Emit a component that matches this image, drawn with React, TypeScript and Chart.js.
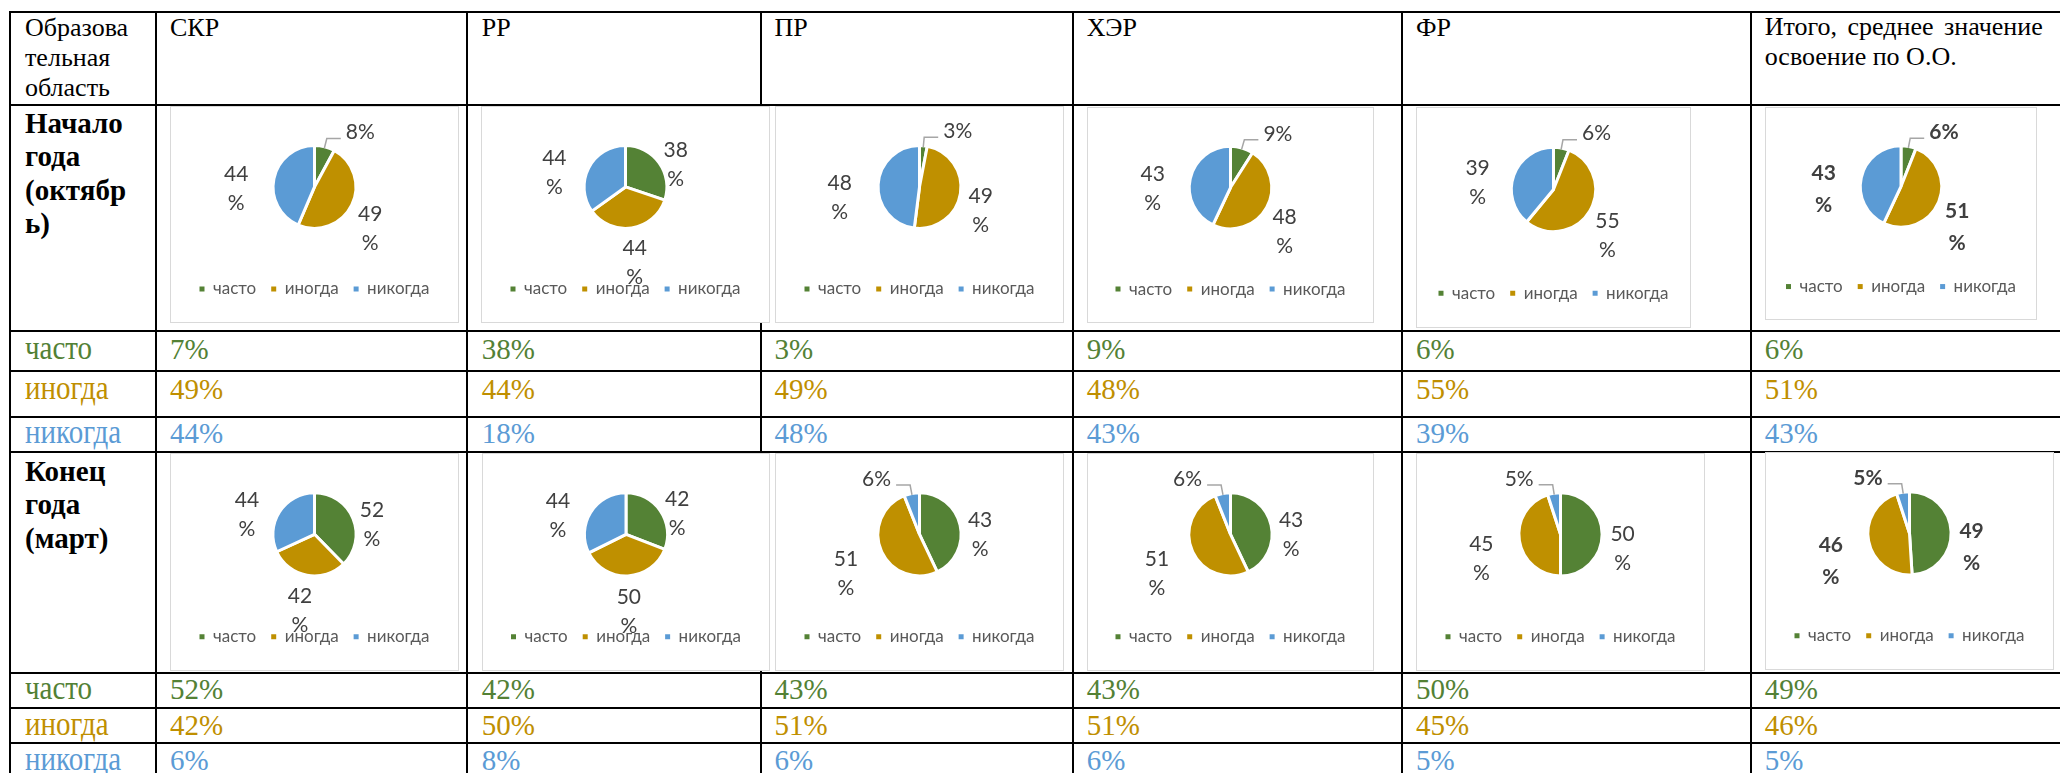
import React, { useEffect, useRef } from "react";
import { Chart, registerables } from "chart.js";

Chart.register(...registerables);

// ---------- data ----------
const categories = ["часто", "иногда", "никогда"];
const areas = ["СКР", "РР", "ПР", "ХЭР", "ФР"];
const totalHeader = ["Итого, среднее значение", "освоение по О.О."];

// values shown on the pie charts (start of year, October)
const startPieOften = [8, 38, 3, 9, 6, 6];
const startPieSometimes = [49, 44, 49, 48, 55, 51];
const startPieNever = [44, 44, 48, 43, 39, 43];
// values shown on the pie charts (end of year, March)
const endPieOften = [52, 42, 43, 43, 50, 49];
const endPieSometimes = [42, 50, 51, 51, 45, 46];
const endPieNever = [44, 44, 6, 6, 5, 5];

// values in the table rows
const startOften = [7, 38, 3, 9, 6, 6];
const startSometimes = [49, 44, 49, 48, 55, 51];
const startNever = [44, 18, 48, 43, 39, 43];
const endOften = [52, 42, 43, 43, 50, 49];
const endSometimes = [42, 50, 51, 51, 45, 46];
const endNever = [6, 8, 6, 6, 5, 5];

// ---------- styles / layout ----------
const sliceColors = ["#548235", "#BF9000", "#5B9BD5"];
const textColors = ["#538135", "#BF8F00", "#5B9BD5"];
const SERIF = "'Liberation Serif', 'Times New Roman', serif";
const SANS = "Lato, 'Open Sans', 'Noto Sans', sans-serif";

const hLines = [12.3, 105, 331, 371, 416.7, 452, 672.7, 708.3, 743.3];
const vLines = [10, 155.7, 466.7, 760.5, 1073, 1402, 1751];
const colTextX = [25, 170, 481.7, 774.6, 1086.8, 1416, 1764.7];

const startBoxes = [
  [170, 106, 289, 217],
  [481, 106, 289, 217],
  [775, 106, 289, 217],
  [1087, 107, 287, 216],
  [1416, 107, 275, 221],
  [1765, 107, 272, 213],
];
const endBoxes = [
  [170, 453, 289, 218],
  [482, 453, 288, 218],
  [775, 453, 289, 218],
  [1087, 453, 287, 218],
  [1416, 453, 289, 218],
  [1765, 452, 289, 218],
];

const startRowBaselines = [359, 399.3, 443.3];
const endRowBaselines = [699.3, 735, 770];

// ---------- data label plugin ----------
const pieLabels = {
  id: "pieLabels",
  afterDatasetsDraw(chart: any, _args: any, opts: any) {
    const ctx = chart.ctx;
    const meta = chart.getDatasetMeta(0);
    const data = chart.data.datasets[0].data as number[];
    const bold = !!opts.bold;
    const lineGap = bold ? 32 : 29;
    ctx.save();
    ctx.font = `${bold ? "bold " : ""}21px ${SANS}`;
    ctx.fillStyle = "#404040";
    ctx.textBaseline = "middle";
    meta.data.forEach((arc: any, i: number) => {
      const p = arc.getProps(["x", "y", "startAngle", "endAngle", "outerRadius"], true);
      const r = p.outerRadius - 1.5;
      const a = (p.startAngle + p.endAngle) / 2;
      const c = Math.cos(a);
      const s = Math.sin(a);
      const v = data[i];
      if (v >= 10) {
        const lx = p.x + c * (c > 0 ? r + 22 : r + 40);
        const ly = p.y + s * (r + 22.5);
        ctx.textAlign = "center";
        ctx.fillText(String(v), lx, ly);
        ctx.fillText("%", lx, ly + lineGap);
      } else {
        const side = c >= 0 ? 1 : -1;
        const x0 = p.x + c * r;
        const y0 = p.y + s * r;
        const px = p.x + c * (r + 10);
        const py = p.y + s * (r + 10);
        ctx.strokeStyle = "#A6A6A6";
        ctx.lineWidth = 1.5;
        ctx.beginPath();
        ctx.moveTo(x0, y0);
        ctx.lineTo(px, py);
        ctx.lineTo(px + side * 14, py);
        ctx.stroke();
        ctx.textAlign = side > 0 ? "left" : "right";
        ctx.fillText(`${v}%`, px + side * 19, py - 6);
      }
    });
    ctx.restore();
  },
};

function PieBox({ box, values, bold }: { box: number[]; values: number[]; bold?: boolean }) {
  const ref = useRef<HTMLCanvasElement | null>(null);
  const [x, y, w, h] = box;
  const W = w - 2;
  const H = h - 2;
  useEffect(() => {
    if (!ref.current) return;
    const legendFont = 17;
    const legendPad = 15;
    const legendCenter = 0.843 * h - 1;
    const pieCenter = 0.373 * h - 1;
    const pb = H - legendCenter - 10 - legendFont / 2;
    const legendTop = H - pb - (legendFont + legendPad + 10);
    const pt = Math.max(0, 2 * pieCenter - legendTop);
    const radius = 0.184 * h + 1.5;
    const baseGen =
      ((Chart as any).overrides.doughnut &&
        (Chart as any).overrides.doughnut.plugins.legend.labels.generateLabels) ||
      (Chart as any).overrides.pie.plugins.legend.labels.generateLabels;
    const chart = new Chart(ref.current, {
      type: "pie",
      data: {
        labels: categories,
        datasets: [
          {
            data: values,
            backgroundColor: sliceColors,
            borderColor: "#FFFFFF",
            borderWidth: 3,
          },
        ],
      },
      plugins: [pieLabels],
      options: {
        responsive: false,
        animation: false,
        radius: radius,
        layout: { padding: { top: pt, bottom: pb, left: 0, right: 0 } },
        plugins: {
          tooltip: { enabled: false },
          pieLabels: { bold },
          legend: {
            position: "bottom",
            labels: {
              font: { family: SANS, size: legendFont },
              color: "#595959",
              boxWidth: 5,
              boxHeight: 5,
              padding: legendPad,
              generateLabels: (ch: any) =>
                baseGen(ch).map((l: any) => ({ ...l, lineWidth: 0, strokeStyle: "rgba(0,0,0,0)" })),
            },
          },
        } as any,
      } as any,
    });
    return () => chart.destroy();
  }, []);
  return (
    <div
      style={{
        position: "absolute",
        left: x,
        top: y,
        width: w,
        height: h,
        boxSizing: "border-box",
        border: "1px solid #D9D9D9",
        background: "#FFFFFF",
      }}
    >
      <canvas ref={ref} width={W} height={H} style={{ display: "block", width: W, height: H }} />
    </div>
  );
}

function T({
  x,
  b,
  size,
  children,
  bold,
  color,
  sy,
  justifyWidth,
}: {
  x: number;
  b: number;
  size: number;
  children: any;
  bold?: boolean;
  color?: string;
  sy?: number;
  justifyWidth?: number;
}) {
  const asc = 0.8375 * size;
  return (
    <div
      style={{
        position: "absolute",
        left: x,
        top: b - asc,
        width: justifyWidth,
        fontFamily: SERIF,
        fontSize: size,
        lineHeight: `${size}px`,
        fontWeight: bold ? "bold" : "normal",
        color: color || "#000000",
        whiteSpace: justifyWidth ? "normal" : "nowrap",
        textAlign: justifyWidth ? "justify" : "left",
        textAlignLast: justifyWidth ? "justify" : "auto",
        transform: sy ? `scaleY(${sy})` : undefined,
        transformOrigin: `0 ${asc}px`,
      }}
    >
      {children}
    </div>
  );
}

export default function App() {
  const startPieValues = areas
    .concat(["total"])
    .map((_, i) => [startPieOften[i], startPieSometimes[i], startPieNever[i]]);
  const endPieValues = areas
    .concat(["total"])
    .map((_, i) => [endPieOften[i], endPieSometimes[i], endPieNever[i]]);
  const startRows = [startOften, startSometimes, startNever];
  const endRows = [endOften, endSometimes, endNever];

  return (
    <div
      style={{
        position: "fixed",
        left: 0,
        top: 0,
        width: 2060,
        height: 773,
        overflow: "hidden",
        background: "#FFFFFF",
      }}
    >
      {/* grid lines */}
      {hLines.map((yy, i) => (
        <div
          key={"h" + i}
          style={{ position: "absolute", left: 9, top: yy - 1, width: 2060, height: 2, background: "#000" }}
        />
      ))}
      {vLines.map((xx, i) => (
        <div
          key={"v" + i}
          style={{ position: "absolute", left: xx - 1, top: 11.3, width: 2, height: 780, background: "#000" }}
        />
      ))}

      {/* header row */}
      <T x={colTextX[0]} b={36.5} size={26}>Образова</T>
      <T x={colTextX[0]} b={66.5} size={26}>тельная</T>
      <T x={colTextX[0]} b={96.5} size={26}>область</T>
      {areas.map((a, i) => (
        <T key={a} x={colTextX[i + 1]} b={36.5} size={26}>
          {a}
        </T>
      ))}
      <T x={colTextX[6]} b={36} size={26} justifyWidth={278}>{totalHeader[0]}</T>
      <T x={colTextX[6]} b={66} size={26}>{totalHeader[1]}</T>

      {/* period labels */}
      <T x={colTextX[0]} b={133} size={29} bold>Начало</T>
      <T x={colTextX[0]} b={166.5} size={29} bold>года</T>
      <T x={colTextX[0]} b={200} size={29} bold>(октябр</T>
      <T x={colTextX[0]} b={233.5} size={29} bold>ь)</T>
      <T x={colTextX[0]} b={481} size={29} bold>Конец</T>
      <T x={colTextX[0]} b={514.5} size={29} bold>года</T>
      <T x={colTextX[0]} b={548} size={29} bold>(март)</T>

      {/* value rows */}
      {categories.map((c, r) => (
        <T key={"sl" + r} x={colTextX[0]} b={startRowBaselines[r]} size={29} color={textColors[r]} sy={1.18}>
          {c}
        </T>
      ))}
      {categories.map((c, r) => (
        <T key={"el" + r} x={colTextX[0]} b={endRowBaselines[r]} size={29} color={textColors[r]} sy={1.18}>
          {c}
        </T>
      ))}
      {startRows.map((row, r) =>
        row.map((v, i) => (
          <T key={"sv" + r + "_" + i} x={colTextX[i + 1]} b={startRowBaselines[r]} size={29} color={textColors[r]}>
            {v + "%"}
          </T>
        ))
      )}
      {endRows.map((row, r) =>
        row.map((v, i) => (
          <T key={"ev" + r + "_" + i} x={colTextX[i + 1]} b={endRowBaselines[r]} size={29} color={textColors[r]}>
            {v + "%"}
          </T>
        ))
      )}

      {/* pie charts */}
      {startPieValues.map((vals, i) => (
        <PieBox key={"sp" + i} box={startBoxes[i]} values={vals} bold={i === 5} />
      ))}
      {endPieValues.map((vals, i) => (
        <PieBox key={"ep" + i} box={endBoxes[i]} values={vals} bold={i === 5} />
      ))}
    </div>
  );
}
